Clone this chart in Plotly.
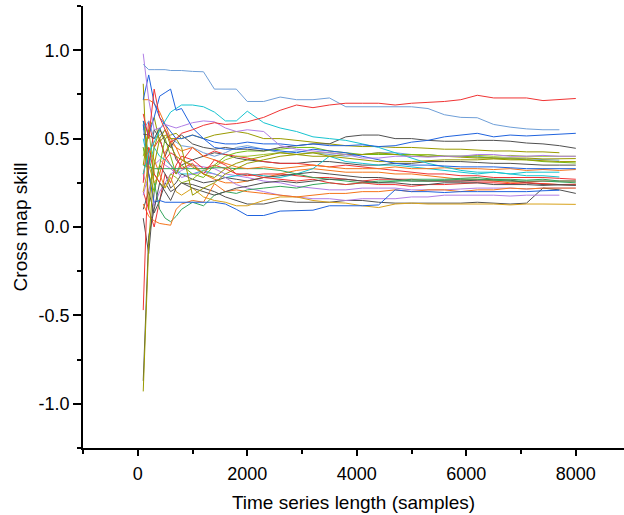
import plotly.graph_objects as go

# Sample lengths (x) shared by all series
X = [100, 200, 300, 400, 500, 600, 700, 800, 1000, 1200, 1400, 1600, 1800,
     2000, 2300, 2600, 2900, 3200, 3500, 3800, 4100, 4400, 4700, 5000, 5300,
     5600, 5900, 6200, 6500, 6800, 7100, 7400, 7700, 8000]

red_a = [0.64, 0.50, 0.78, 0.62, 0.55, 0.48, 0.50, 0.53, 0.55, 0.575, 0.59, 0.58, 0.585,
         0.595, 0.62, 0.66, 0.69, 0.675, 0.69, 0.70, 0.70, 0.70, 0.69, 0.70, 0.705,
         0.71, 0.72, 0.745, 0.73, 0.73, 0.73, 0.715, 0.72, 0.727]
steel_a = [0.92, 0.89, 0.89, 0.89, 0.89, 0.885, 0.885, 0.885, 0.88, 0.878, 0.78, 0.78, 0.78,
           0.71, 0.71, 0.735, 0.72, 0.72, 0.73, 0.68, 0.68, 0.68, 0.68, 0.68, 0.67,
           0.635, 0.62, 0.618, 0.58, 0.565, 0.555, 0.55, 0.55]
purple_a = [0.98, 0.72, 0.55, 0.56, 0.58, 0.57, 0.56, 0.57, 0.59, 0.60, 0.595, 0.56, 0.54,
            0.55, 0.54, 0.46, 0.44, 0.43, 0.42, 0.41, 0.39, 0.39, 0.40, 0.40, 0.395,
            0.40, 0.40, 0.41, 0.41, 0.40, 0.40, 0.405, 0.40, 0.40]
blue_a = [0.72, 0.86, 0.70, 0.62, 0.58, 0.54, 0.50, 0.50, 0.52, 0.50, 0.48, 0.47, 0.47,
          0.48, 0.47, 0.47, 0.46, 0.47, 0.46, 0.46, 0.465, 0.455, 0.46, 0.48, 0.49,
          0.51, 0.52, 0.53, 0.51, 0.52, 0.515, 0.52, 0.525, 0.53]
blue_b = [0.60, 0.52, 0.62, 0.74, 0.76, 0.78, 0.66, 0.67, 0.56, 0.50, 0.45, 0.44, 0.44,
          0.45, 0.44, 0.43, 0.42, 0.44, 0.43, 0.42, 0.40, 0.38, 0.36, 0.35, 0.35,
          0.345, 0.34, 0.34, 0.34, 0.335, 0.33, 0.33, 0.33, 0.33]
cyan_a = [0.30, 0.42, 0.48, 0.55, 0.60, 0.65, 0.67, 0.69, 0.69, 0.68, 0.65, 0.60, 0.60,
          0.655, 0.59, 0.56, 0.54, 0.51, 0.50, 0.49, 0.47, 0.45, 0.42, 0.39, 0.36,
          0.34, 0.32, 0.31, 0.31, 0.30, 0.29, 0.29, 0.283]
grey_a = [0.525, 0.52, 0.50, 0.56, 0.48, 0.45, 0.50, 0.52, 0.47, 0.45, 0.44, 0.45, 0.44,
          0.44, 0.43, 0.45, 0.46, 0.47, 0.47, 0.51, 0.52, 0.52, 0.50, 0.50, 0.49,
          0.485, 0.485, 0.49, 0.49, 0.485, 0.475, 0.47, 0.46, 0.445]
olive_a = [0.81, 0.10, 0.45, 0.55, 0.50, 0.52, 0.53, 0.50, 0.52, 0.50, 0.52, 0.53, 0.54,
           0.53, 0.50, 0.50, 0.49, 0.48, 0.47, 0.46, 0.455, 0.455, 0.45, 0.45, 0.445,
           0.44, 0.44, 0.435, 0.43, 0.43, 0.425, 0.425, 0.42]
olive_b = [0.35, 0.55, 0.62, 0.48, 0.52, 0.50, 0.50, 0.45, 0.18, 0.22, 0.25, 0.30, 0.33,
           0.36, 0.38, 0.40, 0.41, 0.42, 0.40, 0.41, 0.41, 0.42, 0.41, 0.40, 0.40,
           0.40, 0.395, 0.39, 0.39, 0.39, 0.39, 0.385, 0.385, 0.387]
olive_c = [-0.93, -0.10, 0.35, 0.50, 0.55, 0.46, 0.40, 0.38, 0.35, 0.30, 0.28, 0.33, 0.36,
           0.38, 0.40, 0.42, 0.41, 0.40, 0.40, 0.39, 0.38, 0.37, 0.37, 0.37, 0.375,
           0.38, 0.38, 0.38, 0.385, 0.38, 0.38, 0.375, 0.37, 0.37]
grey_b = [-0.87, -0.05, 0.10, 0.25, 0.20, 0.15, 0.22, 0.25, 0.22, 0.20, 0.18, 0.20, 0.22,
          0.23, 0.25, 0.26, 0.25, 0.26, 0.27, 0.27, 0.26, 0.25, 0.25, 0.24, 0.24,
          0.25, 0.25, 0.25, 0.24, 0.24, 0.24, 0.235, 0.24, 0.236]
red_b = [-0.47, 0.45, 0.30, 0.25, 0.38, 0.42, 0.40, 0.33, 0.36, 0.30, 0.38, 0.35, 0.30,
         0.30, 0.28, 0.27, 0.26, 0.27, 0.25, 0.24, 0.25, 0.24, 0.24, 0.23, 0.24,
         0.24, 0.245, 0.25, 0.25, 0.245, 0.25, 0.245, 0.24, 0.242]
blue_c = [0.58, 0.30, 0.14, 0.15, 0.14, 0.14, 0.14, 0.14, 0.14, 0.14, 0.14, 0.13, 0.10,
          0.065, 0.065, 0.09, 0.094, 0.095, 0.12, 0.12, 0.12, 0.125, 0.21, 0.20, 0.20,
          0.195, 0.20, 0.20, 0.20, 0.20, 0.20, 0.205, 0.208]
orange_a = [0.72, 0.72, 0.70, 0.65, 0.58, 0.50, 0.45, 0.43, 0.45, 0.40, 0.38, 0.36, 0.34,
            0.33, 0.34, 0.33, 0.34, 0.35, 0.34, 0.33, 0.33, 0.33, 0.34, 0.33, 0.33,
            0.335, 0.33, 0.33, 0.325, 0.33, 0.32, 0.325, 0.32, 0.325]
orange_b = [0.13, 0.06, 0.035, 0.02, 0.015, 0.01, 0.10, 0.13, 0.15, 0.14, 0.245, 0.20, 0.21,
            0.20, 0.19, 0.18, 0.17, 0.18, 0.19, 0.19, 0.20, 0.20, 0.21, 0.20, 0.21,
            0.21, 0.20, 0.21, 0.21, 0.22, 0.215, 0.22, 0.22, 0.22]
gold_a = [0.20, 0.35, 0.25, 0.30, 0.22, 0.28, 0.20, 0.18, 0.22, 0.17, 0.15, 0.14, 0.12,
          0.12, 0.15, 0.17, 0.17, 0.15, 0.14, 0.135, 0.12, 0.11, 0.13, 0.135, 0.13,
          0.13, 0.13, 0.13, 0.13, 0.125, 0.13, 0.13, 0.128, 0.128]
green_a = [0.35, 0.34, 0.33, 0.33, 0.33, 0.33, 0.33, 0.33, 0.33, 0.33, 0.335, 0.335, 0.33,
           0.33, 0.33, 0.32, 0.30, 0.28, 0.27, 0.26, 0.25, 0.25, 0.26, 0.26, 0.26,
           0.265, 0.27, 0.27, 0.265, 0.26, 0.26, 0.26, 0.255, 0.25]
green_b = [0.60, 0.40, 0.25, 0.10, 0.05, 0.03, 0.06, 0.10, 0.14, 0.12, 0.18, 0.20, 0.19,
           0.21, 0.22, 0.23, 0.22, 0.24, 0.25, 0.24, 0.25, 0.26, 0.26, 0.27, 0.27,
           0.27, 0.275, 0.28, 0.27, 0.27, 0.265, 0.27, 0.26, 0.26]
lime_a = [0.45, 0.30, 0.20, 0.35, 0.50, 0.40, 0.30, 0.35, 0.30, 0.28, 0.35, 0.40, 0.42,
          0.43, 0.43, 0.44, 0.45, 0.45, 0.43, 0.42, 0.41, 0.41, 0.41, 0.41, 0.40,
          0.40, 0.40, 0.395, 0.39, 0.385, 0.38, 0.37, 0.365, 0.362]
lime_b = [0.40, 0.55, 0.30, 0.25, 0.22, 0.30, 0.28, 0.25, 0.27, 0.32, 0.34, 0.38, 0.40,
          0.40, 0.41, 0.42, 0.41, 0.42, 0.42, 0.41, 0.41, 0.415, 0.41, 0.41, 0.41,
          0.40, 0.40, 0.405, 0.40, 0.405, 0.40, 0.40, 0.40, 0.40]
purple_b = [0.18, 0.30, 0.12, 0.20, 0.25, 0.30, 0.32, 0.28, 0.30, 0.31, 0.30, 0.28, 0.24,
            0.22, 0.20, 0.18, 0.17, 0.16, 0.16, 0.15, 0.16, 0.16, 0.16, 0.17, 0.17,
            0.18, 0.18, 0.18, 0.18, 0.175, 0.18, 0.18, 0.18]
grey_c = [0.10, 0.20, 0.08, 0.15, 0.25, 0.20, 0.22, 0.25, 0.24, 0.22, 0.20, 0.17, 0.15,
          0.13, 0.13, 0.15, 0.14, 0.14, 0.14, 0.15, 0.15, 0.14, 0.135, 0.135, 0.135,
          0.135, 0.135, 0.14, 0.135, 0.13, 0.135, 0.22, 0.21, 0.19]
grey_d = [0.05, -0.15, 0.20, 0.35, 0.30, 0.22, 0.25, 0.30, 0.27, 0.25, 0.26, 0.28, 0.27,
          0.26, 0.28, 0.29, 0.30, 0.31, 0.30, 0.29, 0.28, 0.28, 0.27, 0.26, 0.26,
          0.26, 0.26, 0.265, 0.27, 0.265, 0.25, 0.24, 0.24, 0.236]
cyan_b = [0.50, 0.35, 0.45, 0.40, 0.38, 0.35, 0.32, 0.30, 0.30, 0.32, 0.30, 0.28, 0.29,
          0.30, 0.29, 0.28, 0.30, 0.33, 0.40, 0.37, 0.36, 0.35, 0.35, 0.34, 0.33,
          0.32, 0.31, 0.30, 0.31, 0.30, 0.31, 0.31, 0.31]
red_c = [0.20, 0.10, 0.00, 0.15, 0.30, 0.25, 0.35, 0.40, 0.38, 0.33, 0.35, 0.33, 0.30,
         0.29, 0.30, 0.30, 0.29, 0.28, 0.28, 0.27, 0.26, 0.27, 0.27, 0.27, 0.26,
         0.26, 0.26, 0.26, 0.26, 0.26, 0.255, 0.26, 0.26, 0.26]
orange_c = [0.30, 0.45, 0.38, 0.30, 0.42, 0.48, 0.45, 0.38, 0.34, 0.30, 0.27, 0.25, 0.25,
            0.26, 0.28, 0.30, 0.32, 0.33, 0.32, 0.31, 0.31, 0.31, 0.30, 0.30, 0.29,
            0.28, 0.27, 0.27, 0.26, 0.25, 0.25, 0.245, 0.24, 0.24]
steel_b = [0.55, 0.60, 0.50, 0.52, 0.55, 0.50, 0.48, 0.46, 0.45, 0.42, 0.40, 0.42, 0.45,
           0.46, 0.44, 0.42, 0.43, 0.42, 0.41, 0.40, 0.41, 0.42, 0.42, 0.41, 0.41,
           0.40, 0.40, 0.40, 0.39, 0.39, 0.385, 0.38, 0.378]
purple_c = [0.30, 0.20, 0.35, 0.38, 0.35, 0.33, 0.30, 0.32, 0.35, 0.34, 0.33, 0.30, 0.29,
            0.28, 0.26, 0.25, 0.23, 0.22, 0.21, 0.21, 0.22, 0.22, 0.22, 0.21, 0.21,
            0.21, 0.215, 0.22, 0.22, 0.22, 0.215, 0.22, 0.22, 0.22]
red_d = [0.25, 0.60, 0.45, 0.50, 0.40, 0.35, 0.30, 0.37, 0.45, 0.40, 0.43, 0.41, 0.40,
         0.39, 0.37, 0.36, 0.36, 0.35, 0.34, 0.35, 0.34, 0.33, 0.32, 0.31, 0.30,
         0.30, 0.29, 0.29, 0.28, 0.28, 0.28, 0.28, 0.275, 0.27]
grey_e = [0.45, 0.35, 0.55, 0.50, 0.40, 0.48, 0.38, 0.35, 0.38, 0.40, 0.42, 0.41, 0.39,
          0.38, 0.37, 0.36, 0.36, 0.37, 0.37, 0.36, 0.35, 0.35, 0.36, 0.36, 0.37,
          0.37, 0.37, 0.365, 0.36, 0.36, 0.355, 0.35, 0.35, 0.35]

RED, STEEL, BLUE, PURPLE = "#f03434", "#6f9fd8", "#2063de", "#b07ee6"
CYAN, GREY, OLIVE, ORANGE = "#17c4d0", "#505050", "#9a9a00", "#f5741a"
GOLD, GREEN, LIME, YGREEN = "#d8a21a", "#34a65c", "#74bb12", "#9bbf2a"

series = [
    (grey_e, GREY), (purple_c, PURPLE), (red_d, RED), (steel_b, STEEL),
    (orange_c, ORANGE), (red_c, RED), (cyan_b, CYAN), (grey_d, GREY),
    (grey_c, GREY), (purple_b, PURPLE), (lime_b, YGREEN), (lime_a, LIME),
    (green_b, GREEN), (green_a, GREEN), (gold_a, GOLD), (orange_b, ORANGE),
    (orange_a, ORANGE), (blue_c, BLUE), (red_b, RED), (grey_b, GREY),
    (olive_c, OLIVE), (olive_b, OLIVE), (olive_a, OLIVE), (grey_a, GREY),
    (cyan_a, CYAN), (blue_b, BLUE), (blue_a, BLUE), (purple_a, PURPLE),
    (steel_a, STEEL), (red_a, RED),
]

fig = go.Figure()
for ys, col in series:
    fig.add_trace(go.Scatter(x=X[:len(ys)], y=ys, mode="lines",
                             line=dict(color=col, width=1), showlegend=False,
                             hoverinfo="skip"))

FONT = "Liberation Sans, Arial, sans-serif"
axis_common = dict(showline=True, linecolor="black", linewidth=1.5,
                   showgrid=False, zeroline=False, ticks="outside",
                   tickwidth=1.5, tickcolor="black", mirror=False,
                   tickfont=dict(family=FONT, size=18, color="black"))

fig.update_xaxes(range=[-1000, 8880], tickvals=[0, 2000, 4000, 6000, 8000],
                 ticklen=6, ticklabelstandoff=3,
                 minor=dict(ticks="outside", ticklen=4, tickwidth=1.5,
                            tickcolor="black", tick0=-1000, dtick=1000),
                 title=dict(text="Time series length (samples)",
                            font=dict(family=FONT, size=19, color="black"),
                            standoff=12),
                 **axis_common)
fig.update_yaxes(range=[-1.25, 1.25], tickvals=[-1.0, -0.5, 0.0, 0.5, 1.0],
                 ticktext=["-1.0", "-0.5", "0.0", "0.5", "1.0"], ticklen=8,
                 minor=dict(ticks="outside", ticklen=4, tickwidth=1.5,
                            tickcolor="black", tick0=-1.25, dtick=0.25),
                 title=dict(text="Cross map skill",
                            font=dict(family=FONT, size=19, color="black"),
                            standoff=6),
                 **axis_common)

fig.update_layout(width=624, height=515,
                  margin=dict(l=83, r=0, t=6, b=67),
                  plot_bgcolor="white", paper_bgcolor="white",
                  font=dict(family=FONT))

fig.write_html("out.html")
